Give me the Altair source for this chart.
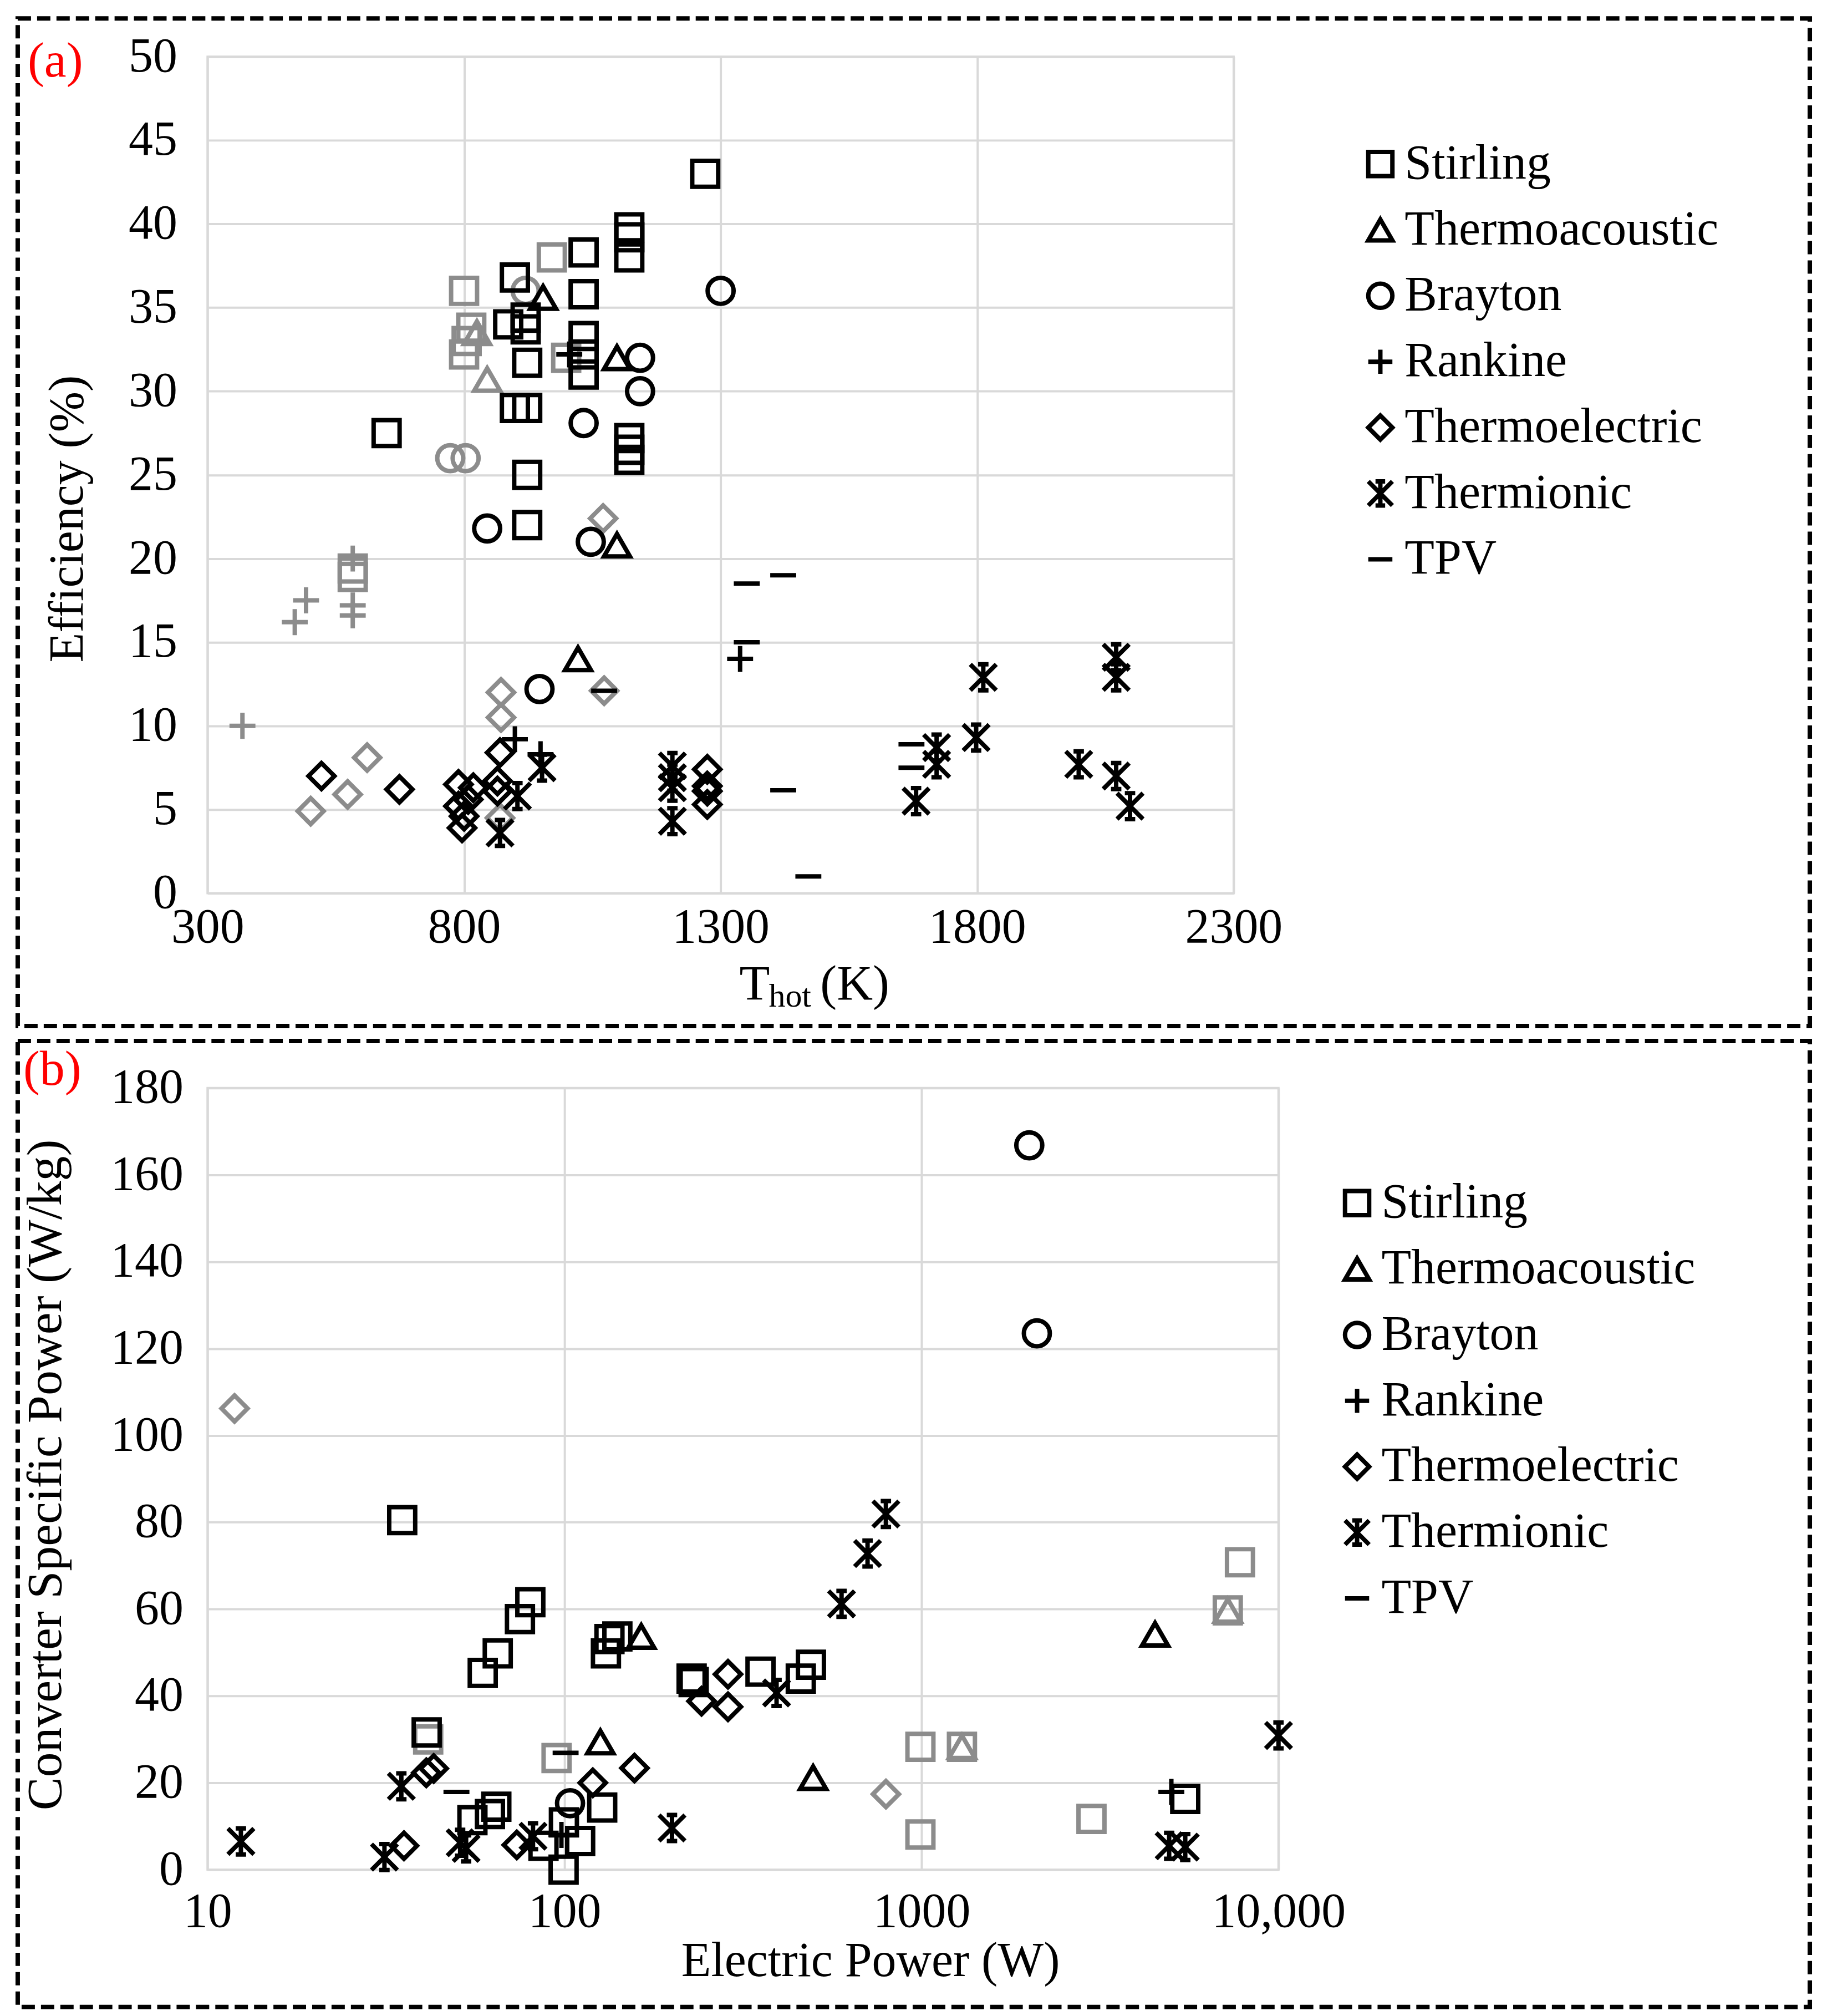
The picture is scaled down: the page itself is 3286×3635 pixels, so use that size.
import altair as alt
import pandas as pd

CATEGORIES = ["Stirling", "Thermoacoustic", "Brayton", "Rankine", "Thermoelectric", "Thermionic", "TPV"]
SHAPES = [
    "square",
    "triangle-up",
    "circle",
    "M-1,0L1,0M0,-1L0,1",
    "diamond",
    "M-1,-1L1,1M-1,1L1,-1M0,-1L0,1M-0.4,-1L0.4,-1M-0.4,1L0.4,1",
    "M-1,0L1,0",
]
BLACK = "#000000"
GRAY = "#8c8c8c"

# ---------------- Panel (a): T_hot (K) vs efficiency (%) ----------------
A_STIRLING_BLACK = [(1270, 43.0), (1122, 39.8), (1122, 39.2), (1122, 38.0), (1033, 38.3), (899, 36.8),
                    (1033, 35.8), (886, 34.0), (920, 34.4), (920, 33.7), (1033, 33.3), (1033, 32.2),
                    (1033, 31.0), (923, 31.7), (899, 29.0), (923, 29.0), (649, 27.5), (1122, 27.2),
                    (1122, 26.5), (1122, 25.9), (923, 25.0), (923, 22.0)]
A_STIRLING_GRAY = [(971, 38.0), (800, 36.0), (814, 33.8), (805, 33.0), (800, 32.2), (999, 32.0),
                   (583, 19.4), (583, 18.9)]
A_THERMOACOUSTIC_BLACK = [(954, 35.6), (1098, 32.0), (1098, 20.8), (1022, 14.0)]
A_THERMOACOUSTIC_GRAY = [(825, 33.5), (845, 30.7)]
A_BRAYTON_BLACK = [(1300, 36.0), (1143, 32.0), (1143, 30.0), (1033, 28.1), (845, 21.8), (1047, 21.0),
                   (947, 12.2)]
A_BRAYTON_GRAY = [(920, 36.0), (773, 26.0), (803, 26.0)]
A_RANKINE_BLACK = [(1005, 32.2), (1338, 14.0), (899, 9.2), (949, 8.3)]
A_RANKINE_GRAY = [(583, 20.0), (583, 17.2), (583, 16.6), (492, 17.5), (470, 16.2), (368, 10.0)]
A_THERMOELECTRIC_BLACK = [(522, 7.0), (674, 6.2), (789, 6.5), (818, 6.3), (865, 6.7), (865, 6.1),
                          (789, 5.2), (808, 5.6), (800, 4.6), (796, 3.9), (870, 8.4), (1274, 7.4),
                          (1274, 6.4), (1274, 6.1), (1274, 5.3)]
A_THERMOELECTRIC_GRAY = [(611, 8.1), (573, 5.9), (501, 4.9), (872, 12.0), (872, 10.5), (1073, 12.1),
                         (1071, 22.4), (870, 4.5)]
A_THERMIONIC_BLACK = [(952, 7.5), (904, 5.8), (870, 3.6), (1206, 7.6), (1206, 6.9), (1206, 6.3),
                      (1206, 4.3), (1721, 8.7), (1721, 7.7), (1681, 5.5), (1798, 9.3), (1812, 12.9),
                      (2071, 14.1), (2071, 12.9), (1998, 7.7), (2071, 7.0), (2098, 5.2)]
A_TPV_BLACK = [(1351, 18.5), (1422, 19.0), (1351, 15.0), (1422, 6.15), (1471, 1.0), (1672, 8.9),
               (1672, 7.5), (1073, 12.1)]

A_X_TICKS = [300, 800, 1300, 1800, 2300]
A_Y_TICKS = [0, 5, 10, 15, 20, 25, 30, 35, 40, 45, 50]

# ---------------- Panel (b): electric power (W) vs specific power (W/kg) ----------------
B_STIRLING_BLACK = [(35.1, 80.5), (80.2, 61.6), (75, 57.7), (65, 49.8), (59, 45.3), (41.1, 31.6),
                    (64.4, 14.5), (61.8, 12.8), (55.2, 11.4), (99.6, 10.9), (110.6, 6.6), (87.3, 5.5),
                    (99.4, 0.0), (127.5, 14.3), (133.6, 53.1), (130.6, 49.8), (140.6, 53.7), (227, 44.0),
                    (230, 43.2), (354, 45.6), (459, 44.0), (490, 47.2), (5480, 16.3)]
B_STIRLING_GRAY = [(41.5, 30.0), (95, 25.7), (993, 28.3), (1298, 28.3), (993, 8.1), (2993, 11.7),
                   (7800, 70.8), (7210, 59.7)]
B_THERMOACOUSTIC_BLACK = [(126, 29.4), (164, 53.7), (497, 21.2), (4510, 54.2)]
B_THERMOACOUSTIC_GRAY = [(1298, 28.3), (7210, 59.7)]
B_BRAYTON_BLACK = [(2004, 166.8), (2104, 123.5), (103.6, 15.3)]
B_RANKINE_BLACK = [(5010, 17.9), (98, 8.0)]
B_THERMOELECTRIC_BLACK = [(41, 22.3), (43, 23.3), (35.5, 5.5), (73.5, 5.7), (120, 20.0), (157, 23.4),
                          (287, 45.0), (287, 37.5), (242, 38.8)]
B_THERMOELECTRIC_GRAY = [(11.9, 106.2), (795, 17.4)]
B_THERMIONIC_BLACK = [(12.4, 6.5), (34.9, 19.2), (31.3, 2.9), (51, 6.2), (53, 4.9), (81.6, 7.7),
                      (200, 9.6), (392.6, 40.7), (597, 61.2), (706, 72.8), (794.7, 81.9), (10000, 30.9),
                      (4940, 5.5), (5480, 5.2)]
B_TPV_BLACK = [(49.8, 17.9), (100.7, 26.9)]

B_X_TICKS = [10, 100, 1000, 10000]
B_Y_TICKS = [0, 20, 40, 60, 80, 100, 120, 140, 160, 180]

FONT = "Liberation Serif"


def table(groups):
    rows = []
    for cat, tone, pts in groups:
        for x, y in pts:
            rows.append({"x": x, "y": y, "type": cat, "tone": tone})
    return pd.DataFrame(rows)


df_a = table([
    ("Stirling", GRAY, A_STIRLING_GRAY), ("Thermoacoustic", GRAY, A_THERMOACOUSTIC_GRAY),
    ("Brayton", GRAY, A_BRAYTON_GRAY), ("Rankine", GRAY, A_RANKINE_GRAY),
    ("Thermoelectric", GRAY, A_THERMOELECTRIC_GRAY),
    ("Stirling", BLACK, A_STIRLING_BLACK), ("Thermoacoustic", BLACK, A_THERMOACOUSTIC_BLACK),
    ("Brayton", BLACK, A_BRAYTON_BLACK), ("Rankine", BLACK, A_RANKINE_BLACK),
    ("Thermoelectric", BLACK, A_THERMOELECTRIC_BLACK), ("Thermionic", BLACK, A_THERMIONIC_BLACK),
    ("TPV", BLACK, A_TPV_BLACK),
])

df_b = table([
    ("Stirling", GRAY, B_STIRLING_GRAY), ("Thermoacoustic", GRAY, B_THERMOACOUSTIC_GRAY),
    ("Thermoelectric", GRAY, B_THERMOELECTRIC_GRAY),
    ("Stirling", BLACK, B_STIRLING_BLACK), ("Thermoacoustic", BLACK, B_THERMOACOUSTIC_BLACK),
    ("Brayton", BLACK, B_BRAYTON_BLACK), ("Rankine", BLACK, B_RANKINE_BLACK),
    ("Thermoelectric", BLACK, B_THERMOELECTRIC_BLACK), ("Thermionic", BLACK, B_THERMIONIC_BLACK),
    ("TPV", BLACK, B_TPV_BLACK),
])

one = pd.DataFrame({"k": [0]})


def label(text, x, y, size, angle=0, align="left", baseline="alphabetic", color="black"):
    return alt.Chart(one).mark_text(
        font=FONT, fontSize=size, angle=angle, align=align, baseline=baseline, color=color
    ).encode(x=alt.value(x), y=alt.value(y), text=alt.value(text))


def frame(x1, x2, y1, y2):
    return alt.Chart(one).mark_rect(
        filled=False, stroke="black", strokeWidth=8, strokeDash=[24, 11], fill=None
    ).encode(x=alt.value(x1), x2=alt.value(x2), y=alt.value(y1), y2=alt.value(y2))


def legend(lx, ly):
    return alt.Legend(
        title=None, orient="none", legendX=lx, legendY=ly, direction="vertical",
        labelFont=FONT, labelFontSize=88, labelColor="black", labelOffset=0,
        symbolStrokeColor="black", symbolFillColor="transparent", symbolStrokeWidth=8,
        symbolSize=1900, rowPadding=31, padding=0, offset=0, labelLimit=1000,
    )


# ---------------- build panel (a) ----------------
WA, HA = 1854, 1511
pts_a = alt.Chart(df_a).mark_point(filled=False, strokeWidth=8, size=2200, opacity=1).encode(
    x=alt.X("x:Q", scale=alt.Scale(domain=[300, 2300], nice=False, zero=False),
            axis=alt.Axis(values=A_X_TICKS, format="d", title=None, labelPadding=18,
                          labelFlush=False, labelOverlap=False)),
    y=alt.Y("y:Q", scale=alt.Scale(domain=[0, 50], nice=False),
            axis=alt.Axis(values=A_Y_TICKS, format="d", title=None, labelPadding=55)),
    shape=alt.Shape("type:N", scale=alt.Scale(domain=CATEGORIES, range=SHAPES), legend=legend(2075, 150)),
    color=alt.Color("tone:N", scale=None),
)

panel_a = alt.layer(
    pts_a,
    frame(-343, 2895, -69, 1751),
    label("(a)", -325, 36, 90, color="#ff0000"),
    label("Efficiency (%)", -252, 835, 88, angle=270, align="center", baseline="middle"),
    label("T", 961, 1703, 90),
    label("hot", 1014, 1716, 60),
    label("(K)", 1107, 1703, 90),
).properties(width=WA, height=HA)

# ---------------- build panel (b) ----------------
WB, HB = 1935, 1412
pts_b = alt.Chart(df_b).mark_point(filled=False, strokeWidth=8, size=2200, opacity=1).encode(
    x=alt.X("x:Q", scale=alt.Scale(type="log", domain=[10, 10000], nice=False),
            axis=alt.Axis(values=B_X_TICKS, title=None, labelPadding=33, labelFlush=False,
                          labelOverlap=False, labelLimit=1000,
                          labelExpr="datum.value >= 10000 ? '10,000' : format(datum.value, 'd')")),
    y=alt.Y("y:Q", scale=alt.Scale(domain=[0, 180], nice=False),
            axis=alt.Axis(values=B_Y_TICKS, format="d", title=None, labelPadding=44)),
    shape=alt.Shape("type:N", scale=alt.Scale(domain=CATEGORIES, range=SHAPES), legend=legend(2033, 164)),
    color=alt.Color("tone:N", scale=None),
)

panel_b = alt.layer(
    pts_b,
    frame(-343, 2895, -85, 1660),
    label("(b)", -333, -6, 90, color="#ff0000"),
    label("Converter Specific Power (W/kg)", -292, 699, 90, angle=270, align="center", baseline="middle"),
    label("Electric Power (W)", 1198, 1604, 88, align="center"),
).properties(width=WB, height=HB)

chart = alt.vconcat(panel_a, panel_b, spacing=15).resolve_scale(
    x="independent", y="independent", shape="independent"
).resolve_legend(shape="independent").properties(
    padding={"left": 18, "top": 16, "right": 8, "bottom": 8},
    background="white",
).configure_view(
    stroke="#d9d9d9", strokeWidth=4
).configure_axis(
    labelFont=FONT, labelFontSize=88, labelColor="black", domain=False, ticks=False,
    gridColor="#d9d9d9", gridWidth=4, grid=True, labelLimit=1000,
)

chart.save("out.html", embed_options={"renderer": "svg", "actions": False})
